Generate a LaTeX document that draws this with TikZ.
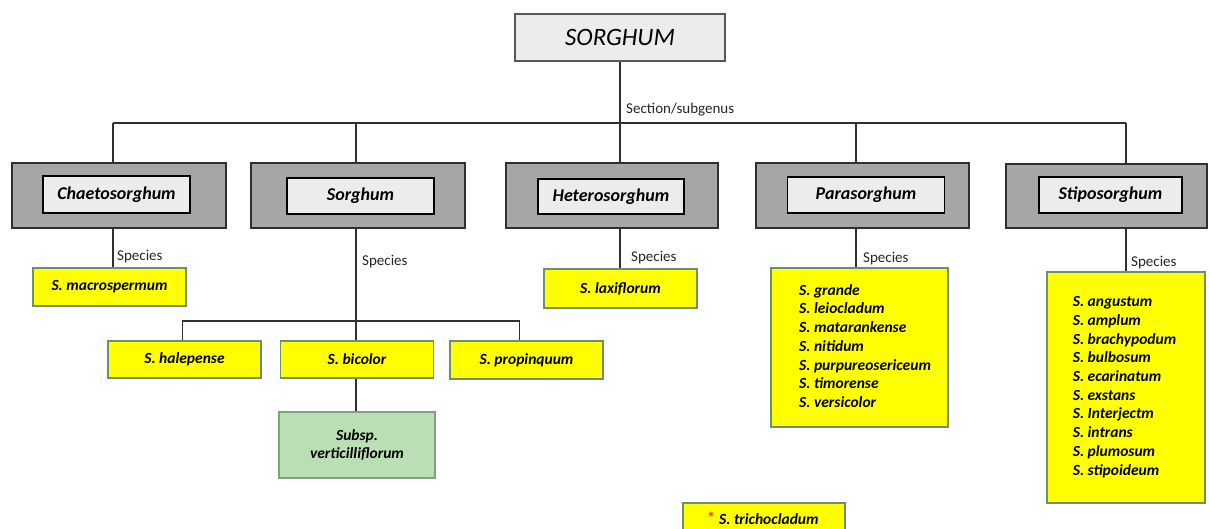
\documentclass[tikz,border=0pt]{standalone}
\usepackage{fontspec}
\setmainfont{Carlito}
\definecolor{outgray}{HTML}{A6A6A6}
\definecolor{ingray}{HTML}{ECECEC}
\definecolor{yelfill}{HTML}{FFFF00}
\definecolor{yelline}{HTML}{6F8F6F}
\definecolor{grnfill}{HTML}{BADFB5}
\definecolor{grnline}{HTML}{7FA47B}
\definecolor{lineclr}{HTML}{303030}
\definecolor{astclr}{HTML}{F03010}
\tikzset{
  conn/.style={draw=lineclr, line width=1.2pt},
  topbox/.style={draw=lineclr!80, line width=1.2pt, fill=ingray, inner sep=0pt,
    font=\fontsize{25}{28}\selectfont\itshape},
  secouter/.style={draw=lineclr, line width=1.2pt, fill=outgray, inner sep=0pt},
  secinner/.style={draw=black, line width=1.2pt, fill=ingray, inner sep=0pt,
    font=\fontsize{18}{20}\selectfont\bfseries\itshape},
  yelbox/.style={draw=yelline, line width=1.2pt, fill=yelfill, inner sep=0pt,
    font=\fontsize{15.5}{18.7}\selectfont\bfseries\itshape},
  grnbox/.style={draw=grnline, line width=1.2pt, fill=grnfill, inner sep=0pt, align=center,
    font=\fontsize{15.5}{18}\selectfont\bfseries\itshape},
  spctext/.style={inner sep=0pt, align=left, anchor=west,
    font=\fontsize{15.5}{18.7}\selectfont\bfseries\itshape},
  lbl/.style={inner sep=0pt, anchor=west, text=black!85, font=\fontsize{15}{17}\selectfont},
}
\begin{document}
\begin{tikzpicture}[x=1pt,y=-1pt]
\useasboundingbox (0,0) rectangle (1209,528);
\fill[white] (0,0) rectangle (1209,528);

% coordinates of bus junctions
\coordinate (busL) at (113,123);
\coordinate (j2) at (356,123);
\coordinate (j3) at (620,123);
\coordinate (j4) at (856,123);
\coordinate (busR) at (1126,123);
\coordinate (sbL) at (182.5,321);
\coordinate (sbR) at (519.5,321);

% top
\node[topbox, minimum width=210pt, minimum height=47pt] (top) at (620,37.5) {SORGHUM};

% section boxes
\node[secouter, minimum width=214pt, minimum height=65pt] (chO) at (119,195.5) {};
\node[secinner, minimum width=147pt, minimum height=37pt] (chI) at (116.5,194.5) {Chaetosorghum};
\node[secouter, minimum width=214pt, minimum height=65pt] (sO) at (358,195.5) {};
\node[secinner, minimum width=147pt, minimum height=36pt] (sI) at (360.5,196) {Sorghum};
\node[secouter, minimum width=212pt, minimum height=65pt] (hO) at (612,195.5) {};
\node[secinner, minimum width=146pt, minimum height=35pt] (hI) at (611,196.5) {Heterosorghum};
\node[secouter, minimum width=213pt, minimum height=65pt] (pO) at (862.5,195.5) {};
\node[secinner, minimum width=157pt, minimum height=36pt] (pI) at (866,195) {Parasorghum};
\node[secouter, minimum width=201pt, minimum height=64pt] (stO) at (1106.5,196) {};
\node[secinner, minimum width=143pt, minimum height=36pt] (stI) at (1110.5,195) {Stiposorghum};

% species boxes
\node[yelbox, minimum width=153pt, minimum height=38pt] (macro) at (109.5,287) {S. macrospermum};
\node[yelbox, minimum width=153pt, minimum height=39pt] (lax) at (620.5,288.5) {S. laxiflorum};
\node[yelbox, minimum width=153pt, minimum height=37pt] (hal) at (184.5,359.5) {S. halepense};
\node[yelbox, minimum width=153pt, minimum height=37pt] (bic) at (357,359.5) {S. bicolor};
\node[yelbox, minimum width=153pt, minimum height=38pt] (prop) at (526.5,360) {S. propinquum};
\node[grnbox, minimum width=156pt, minimum height=66pt] (grn) at (357,445) {Subsp.\\verticilliflorum};

\node[yelbox, minimum width=177pt, minimum height=159pt] (plist) at (859.5,347.5) {};
\node[spctext] (ptext) at (799,346) {S. grande\\S. leiocladum\\S. matarankense\\S. nitidum\\S. purpureosericeum\\S. timorense\\S. versicolor};

\node[yelbox, minimum width=158pt, minimum height=231pt] (slist) at (1126,387.5) {};
\node[spctext] (stext) at (1072.6,387) {S. angustum\\S. amplum\\S. brachypodum\\S. bulbosum\\S. ecarinatum\\S. exstans\\S. Interjectm\\S. intrans\\S. plumosum\\S. stipoideum};

\node[yelbox, minimum width=162pt, minimum height=34pt] (trich) at (764,520) {};
\node[spctext] (ttext) at (707,518) {{\color{astclr}\fontsize{16}{16}\selectfont\upshape\bfseries\raisebox{1pt}{*}}\hspace{4pt}S. trichocladum};

% connectors
\draw[conn] (top.south) -- (top.south |- busL);
\draw[conn] (busL) -- (busR);
\draw[conn] (busL) -- (busL |- chO.north);
\draw[conn] (j2) -- (j2 |- sO.north);
\draw[conn] (j3) -- (j3 |- hO.north);
\draw[conn] (j4) -- (j4 |- pO.north);
\draw[conn] (busR) -- (busR |- stO.north);

\draw[conn] (busL |- chO.south) -- (busL |- macro.north);
\draw[conn] (j2 |- sO.south) -- (j2 |- bic.north);
\draw[conn] (sbL |- hal.north) -- (sbL) -- (sbR) -- (sbR |- prop.north);
\draw[conn] (j2 |- bic.south) -- (j2 |- grn.north);
\draw[conn] (j3 |- hO.south) -- (j3 |- lax.north);
\draw[conn] (j4 |- pO.south) -- (j4 |- plist.north);
\draw[conn] (busR |- stO.south) -- (busR |- slist.north);

% labels
\node[lbl] (secl) at (626,110) {Section/subgenus};
\node[lbl] (sp1) at (117,257) {Species};
\node[lbl] (sp2) at (362,262) {Species};
\node[lbl] (sp3) at (631,258) {Species};
\node[lbl] (sp4) at (863,259) {Species};
\node[lbl] (sp5) at (1131,263) {Species};
\end{tikzpicture}
\end{document}
